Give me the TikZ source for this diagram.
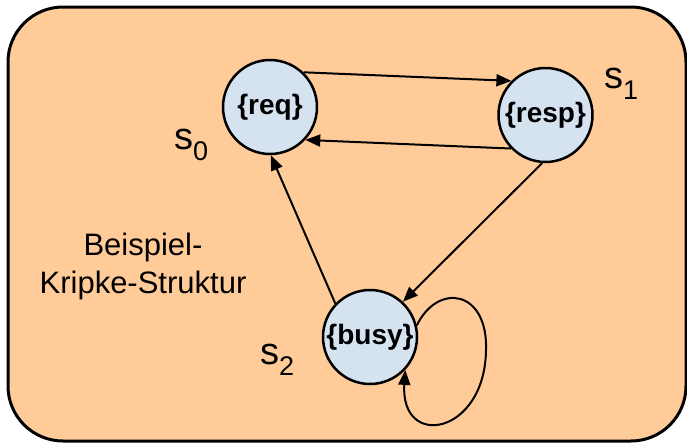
\documentclass[tikz,border=0pt]{standalone}
\usepackage{fontspec}
\setmainfont{Liberation Sans}
\usetikzlibrary{arrows.meta}
\definecolor{panel}{HTML}{FFCC99}
\definecolor{statefill}{HTML}{D5E3F0}
% lowered state index
\newcommand\stidx[1]{\raisebox{-11pt}{\fontsize{27}{27}\selectfont #1}}

\begin{document}
\begin{tikzpicture}[x=1pt,y=-1pt,
  state/.style={circle,draw=black,line width=2.5pt,fill=statefill,
    minimum size=94pt,inner sep=0pt,font=\fontsize{28}{28}\selectfont\bfseries},
  trans/.style={line width=2pt,-{Triangle[length=15pt,width=12pt]}},
  slabel/.style={anchor=base west,inner sep=0pt,font=\fontsize{38}{38}\selectfont},
  caption/.style={align=center,inner sep=0pt,font=\fontsize{31}{38}\selectfont}]
\useasboundingbox (0,0) rectangle (687,442);

% background panel
\draw[line width=3pt,fill=panel,rounded corners=55pt] (8,7) rectangle (686,441);

% states
\node[state] (req)  at (270,107) {\{req\}};
\node[state] (resp) at (545.5,115) {\{resp\}};
\node[state] (busy) at (370,337) {\{busy\}};

% state names
\node[slabel] (n0) at (174,149) {s\stidx{0}};
\node[slabel] (n1) at (604,88)  {s\stidx{1}};
\node[slabel] (n2) at (260,364) {s\stidx{2}};

\node[caption] (cap) at (143,266) {Beispiel-\\Kripke-Struktur};

% transitions
\draw[trans] (req.46) -- (resp.135);
\draw[trans] (resp.224) -- (req.317);
\draw[trans] (resp.266) -- (busy.47);
\draw[trans] (busy.136) -- (req.271);

% self loop on busy
\coordinate (loopR) at (486,350);
\draw[trans] (busy.14) .. controls (438,282) and (488,290) .. (loopR)
  .. controls (485,435) and (400,450) .. (busy.-43);
\end{tikzpicture}
\end{document}
